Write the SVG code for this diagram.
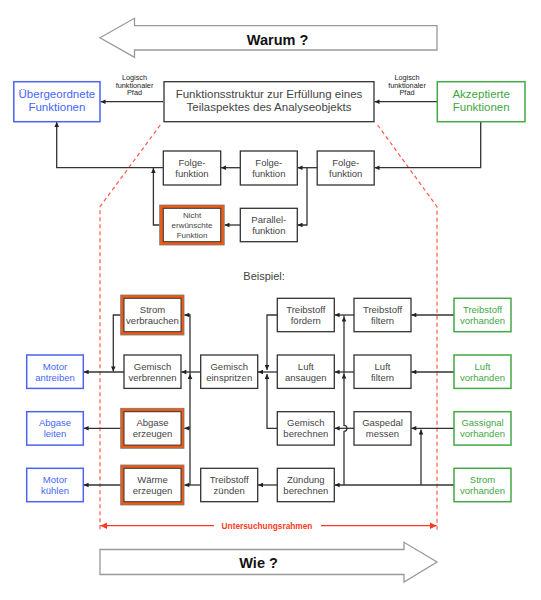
<svg xmlns="http://www.w3.org/2000/svg" width="541" height="600" viewBox="0 0 541 600">
<defs>
<style>
.box{fill:#fff;stroke:#333;stroke-width:1.3}
.bl{fill:#fff;stroke:#4a63f0;stroke-width:1.5}
.gr{fill:#fff;stroke:#45a845;stroke-width:1.5}
.or{fill:#ee5a14;stroke:#777;stroke-width:0.8}
.big{fill:#fff;stroke:#999;stroke-width:1.3}
.t{font-family:"Liberation Sans",Arial,sans-serif;font-size:9.5px;fill:#444;text-anchor:middle}
.tb{font-family:"Liberation Sans",Arial,sans-serif;font-size:9.5px;fill:#4466ff;text-anchor:middle}
.tg{font-family:"Liberation Sans",Arial,sans-serif;font-size:9.5px;fill:#3fa63f;text-anchor:middle}
.tl{font-family:"Liberation Sans",Arial,sans-serif;font-size:11.5px;text-anchor:middle}
.sm{font-family:"Liberation Sans",Arial,sans-serif;font-size:7.3px;fill:#222;text-anchor:middle}
.hd{font-family:"Liberation Sans",Arial,sans-serif;font-size:14.5px;font-weight:bold;fill:#111;text-anchor:middle}
.c{fill:none;stroke:#333;stroke-width:1.3}
.d{fill:none;stroke:#ff5a48;stroke-width:1.2;stroke-dasharray:4 3}
.r{fill:none;stroke:#ff3a22;stroke-width:1.2}
</style>
<marker id="a" viewBox="0 0 8 8" refX="8" refY="4" markerWidth="5.5" markerHeight="5" markerUnits="userSpaceOnUse" orient="auto"><path d="M0,0.3 L8,4 L0,7.7 z" fill="#222"/></marker>
<marker id="ar" viewBox="0 0 8 8" refX="8" refY="4" markerWidth="7" markerHeight="6.5" markerUnits="userSpaceOnUse" orient="auto"><path d="M0,0 L8,4 L0,8 z" fill="#ff3a22"/></marker>
</defs>
<rect width="541" height="600" fill="#fff"/>

<g id="warum">
<polygon class="big" points="100,37.8 134.5,18.3 134.5,25.7 437,25.7 437,50 134.5,50 134.5,57.3"/>
<text class="hd" x="277.6" y="44.5">Warum ?</text>
</g>
<g id="wie">
<polygon class="big" points="100,549.5 404,549.5 404,542.3 437,562 404,582 404,574.5 100,574.5"/>
<text class="hd" x="258.6" y="567.7">Wie ?</text>
</g>

<g id="frame">
<path class="d" d="M160.3,125 L100,206.7 V532"/>
<path class="d" d="M377.6,125 L437,206.7 V532"/>
<path class="r" d="M214,525.7 H100.5" marker-end="url(#ar)"/>
<path class="r" d="M321,525.7 H436.5" marker-end="url(#ar)"/>
<text x="267" y="528.6" style="font-family:'Liberation Sans',Arial,sans-serif;font-size:8.3px;font-weight:bold;fill:#ff3a22;text-anchor:middle">Untersuchungsrahmen</text>
</g>

<g id="connectors">
<path class="c" d="M163,101.7 H100.5" marker-end="url(#a)"/>
<path class="c" d="M437.3,101.7 H374.5" marker-end="url(#a)"/>
<path class="c" d="M480.7,121.7 V167.7 H374.5" marker-end="url(#a)"/>
<path class="c" d="M317.2,167.7 H297.5" marker-end="url(#a)"/>
<path class="c" d="M307,167.7 V225 H297.5" marker-end="url(#a)"/>
<path class="c" d="M240.3,167.7 H221" marker-end="url(#a)"/>
<path class="c" d="M163,167.7 H56.7 V122" marker-end="url(#a)"/>
<path class="c" d="M240.3,225 H224.5" marker-end="url(#a)"/>
<path class="c" d="M159.7,225 H153.4 V168" marker-end="url(#a)"/>

<path class="c" d="M454,315 H411.3" marker-end="url(#a)"/>
<path class="c" d="M454,372 H411.3" marker-end="url(#a)"/>
<path class="c" d="M454,428.3 H411.3" marker-end="url(#a)"/>
<path class="c" d="M454,485 H334.6" marker-end="url(#a)"/>
<path class="c" d="M421,485 V429.5" marker-end="url(#a)"/>
<path class="c" d="M344,485 V431.3 A3,3 0 0 0 344,425.3 V373.5" marker-end="url(#a)"/>
<path class="c" d="M344,373.5 V316.5" marker-end="url(#a)"/>
<path class="c" d="M344,316.5 V315"/>
<path class="c" d="M354,315 H334.6" marker-end="url(#a)"/>
<path class="c" d="M354,372 H334.6" marker-end="url(#a)"/>
<path class="c" d="M354,428.3 H334.6" marker-end="url(#a)"/>

<path class="c" d="M277.3,315 H267 V370" marker-end="url(#a)"/>
<path class="c" d="M277.3,428.3 H267 V374" marker-end="url(#a)"/>
<path class="c" d="M277.3,372 H258" marker-end="url(#a)"/>
<path class="c" d="M277.3,485 H258" marker-end="url(#a)"/>

<path class="c" d="M200.7,372 H181.3" marker-end="url(#a)"/>
<path class="c" d="M124,372 H83.6" marker-end="url(#a)"/>
<path class="c" d="M120.7,315 H113.3 V371.5" marker-end="url(#a)"/>
<path class="c" d="M120.7,428.3 H83.6" marker-end="url(#a)"/>
<path class="c" d="M120.7,485 H83.6" marker-end="url(#a)"/>
<path class="c" d="M200.7,485 H184.3" marker-end="url(#a)"/>
<path class="c" d="M190,485 V374" marker-end="url(#a)"/>
<path class="c" d="M190,374 V315 H184.3" marker-end="url(#a)"/>
<path class="c" d="M190,428.3 H184.3" marker-end="url(#a)"/>
</g>

<g id="lbl-left"><text class="sm" x="134.5" y="79.8">Logisch</text><text class="sm" x="134.5" y="87.5">funktionaler</text><text class="sm" x="134.5" y="95.2">Pfad</text></g>
<g id="lbl-right"><text class="sm" x="407" y="79.8">Logisch</text><text class="sm" x="407" y="87.5">funktionaler</text><text class="sm" x="407" y="95.2">Pfad</text></g>

<g id="uebergeordnet"><rect class="bl" x="13.8" y="81.7" width="86.2" height="40"/><text class="tl" style="fill:#4466ff" x="56.9" y="98.3">Übergeordnete</text><text class="tl" style="fill:#4466ff" x="56.9" y="111.3">Funktionen</text></g>
<g id="struktur"><rect class="box" x="164" y="81.7" width="210" height="40"/><text class="tl" style="fill:#444" x="269" y="98.3">Funktionsstruktur zur Erfüllung eines</text><text class="tl" style="fill:#444" x="269" y="111.3">Teilaspektes des Analyseobjekts</text></g>
<g id="akzeptiert"><rect class="gr" x="437.3" y="81.7" width="87.7" height="40"/><text class="tl" style="fill:#3fa63f" x="481.2" y="98.3">Akzeptierte</text><text class="tl" style="fill:#3fa63f" x="481.2" y="111.3">Funktionen</text></g>

<g id="folge1"><rect class="box" x="163.3" y="151" width="57.4" height="34"/><text class="t" x="192" y="165.5">Folge-</text><text class="t" x="192" y="177">funktion</text></g>
<g id="folge2"><rect class="box" x="240.3" y="151" width="57" height="34"/><text class="t" x="268.8" y="165.5">Folge-</text><text class="t" x="268.8" y="177">funktion</text></g>
<g id="folge3"><rect class="box" x="317.2" y="151" width="57" height="34"/><text class="t" x="345.7" y="165.5">Folge-</text><text class="t" x="345.7" y="177">funktion</text></g>
<g id="parallel"><rect class="box" x="240.3" y="208.3" width="57" height="33.4"/><text class="t" x="268.8" y="222.5">Parallel-</text><text class="t" x="268.8" y="234">funktion</text></g>
<g id="nicht"><rect class="or" x="159.7" y="205" width="64.5" height="40"/><rect class="box" x="163.3" y="208.3" width="57.4" height="33.4" style="stroke-width:1"/><text class="t" style="font-size:8px" x="192" y="218.2">Nicht</text><text class="t" style="font-size:8px" x="192" y="228.4">erwünschte</text><text class="t" style="font-size:8px" x="192" y="238.4">Funktion</text></g>

<text id="beispiel" x="243.3" y="280" style="font-family:'Liberation Sans',Arial,sans-serif;font-size:11px;fill:#444">Beispiel:</text>

<g id="strom-verbrauchen"><rect class="or" x="120.7" y="295" width="63.3" height="40"/><rect class="box" x="124" y="298.3" width="57" height="33.4" style="stroke-width:1"/><text class="t" x="152.5" y="312.5">Strom</text><text class="t" x="152.5" y="324">verbrauchen</text></g>
<g id="treibstoff-foerdern"><rect class="box" x="277.3" y="298.3" width="57" height="33.4"/><text class="t" x="305.8" y="312.5">Treibstoff</text><text class="t" x="305.8" y="324">fördern</text></g>
<g id="treibstoff-filtern"><rect class="box" x="354" y="298.3" width="57" height="33.4"/><text class="t" x="382.5" y="312.5">Treibstoff</text><text class="t" x="382.5" y="324">filtern</text></g>
<g id="treibstoff-vorhanden"><rect class="gr" x="454" y="298.3" width="57" height="33.4"/><text class="tg" x="482.5" y="312.5">Treibstoff</text><text class="tg" x="482.5" y="324">vorhanden</text></g>

<g id="motor-antreiben"><rect class="bl" x="26.7" y="355" width="56.6" height="33.4"/><text class="tb" x="55" y="369.5">Motor</text><text class="tb" x="55" y="381">antreiben</text></g>
<g id="gemisch-verbrennen"><rect class="box" x="124" y="355" width="57" height="33.4"/><text class="t" x="152.5" y="369.5">Gemisch</text><text class="t" x="152.5" y="381">verbrennen</text></g>
<g id="gemisch-einspritzen"><rect class="box" x="200.7" y="355" width="57" height="33.4"/><text class="t" x="229.2" y="369.5">Gemisch</text><text class="t" x="229.2" y="381">einspritzen</text></g>
<g id="luft-ansaugen"><rect class="box" x="277.3" y="355" width="57" height="33.4"/><text class="t" x="305.8" y="369.5">Luft</text><text class="t" x="305.8" y="381">ansaugen</text></g>
<g id="luft-filtern"><rect class="box" x="354" y="355" width="57" height="33.4"/><text class="t" x="382.5" y="369.5">Luft</text><text class="t" x="382.5" y="381">filtern</text></g>
<g id="luft-vorhanden"><rect class="gr" x="454" y="355" width="57" height="33.4"/><text class="tg" x="482.5" y="369.5">Luft</text><text class="tg" x="482.5" y="381">vorhanden</text></g>

<g id="abgase-leiten"><rect class="bl" x="26.7" y="411.7" width="56.6" height="33.4"/><text class="tb" x="55" y="425.8">Abgase</text><text class="tb" x="55" y="437.3">leiten</text></g>
<g id="abgase-erzeugen"><rect class="or" x="120.7" y="408.3" width="63.3" height="40"/><rect class="box" x="124" y="411.7" width="57" height="33.4" style="stroke-width:1"/><text class="t" x="152.5" y="425.8">Abgase</text><text class="t" x="152.5" y="437.3">erzeugen</text></g>
<g id="gemisch-berechnen"><rect class="box" x="277.3" y="411.7" width="57" height="33.4"/><text class="t" x="305.8" y="425.8">Gemisch</text><text class="t" x="305.8" y="437.3">berechnen</text></g>
<g id="gaspedal-messen"><rect class="box" x="354" y="411.7" width="57" height="33.4"/><text class="t" x="382.5" y="425.8">Gaspedal</text><text class="t" x="382.5" y="437.3">messen</text></g>
<g id="gassignal-vorhanden"><rect class="gr" x="454" y="411.7" width="57" height="33.4"/><text class="tg" x="482.5" y="425.8">Gassignal</text><text class="tg" x="482.5" y="437.3">vorhanden</text></g>

<g id="motor-kuehlen"><rect class="bl" x="26.7" y="468.3" width="56.6" height="33.4"/><text class="tb" x="55" y="482.5">Motor</text><text class="tb" x="55" y="494">kühlen</text></g>
<g id="waerme-erzeugen"><rect class="or" x="120.7" y="465" width="63.3" height="40"/><rect class="box" x="124" y="468.3" width="57" height="33.4" style="stroke-width:1"/><text class="t" x="152.5" y="482.5">Wärme</text><text class="t" x="152.5" y="494">erzeugen</text></g>
<g id="treibstoff-zuenden"><rect class="box" x="200.7" y="468.3" width="57" height="33.4"/><text class="t" x="229.2" y="482.5">Treibstoff</text><text class="t" x="229.2" y="494">zünden</text></g>
<g id="zuendung-berechnen"><rect class="box" x="277.3" y="468.3" width="57" height="33.4"/><text class="t" x="305.8" y="482.5">Zündung</text><text class="t" x="305.8" y="494">berechnen</text></g>
<g id="strom-vorhanden"><rect class="gr" x="454" y="468.3" width="57" height="33.4"/><text class="tg" x="482.5" y="482.5">Strom</text><text class="tg" x="482.5" y="494">vorhanden</text></g>
</svg>
